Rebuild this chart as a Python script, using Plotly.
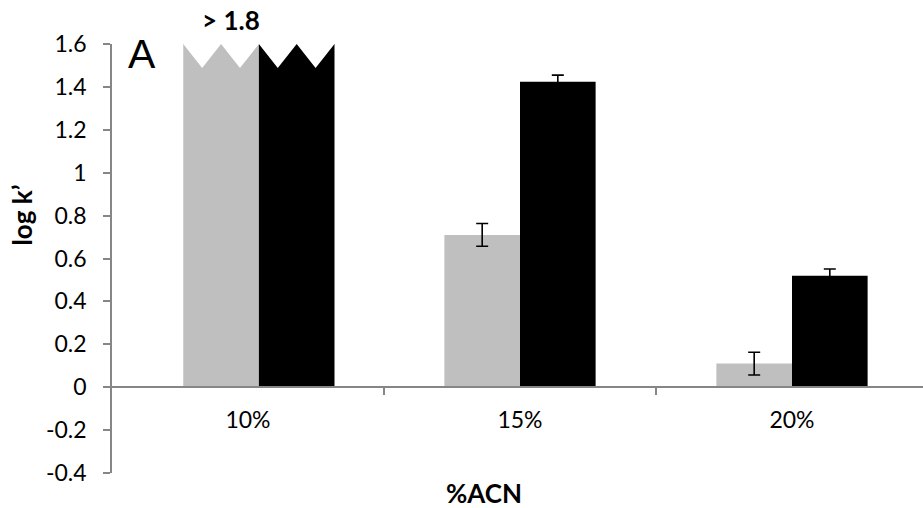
import plotly.graph_objects as go

# Retention factor (log k') versus acetonitrile content
categories = ["10%", "15%", "20%"]
series_a = [1.8, 0.71, 0.11]          # grey bars
series_a_err = [None, 0.053, 0.053]
series_b = [1.8, 1.424, 0.52]         # black bars
series_b_err = [None, 0.031, 0.031]
off_scale_label = "> 1.8"

y_tick_values = [1.6, 1.4, 1.2, 1.0, 0.8, 0.6, 0.4, 0.2, 0.0, -0.2, -0.4]
y_tick_labels = ["1.6", "1.4", "1.2", "1", "0.8", "0.6", "0.4", "0.2", "0", "-0.2", "-0.4"]

# ---- styling / geometry -------------------------------------------------
GREY = "#BFBFBF"
BLACK = "#000000"
AXIS = "#868686"
FONT = "Lato"
FS = 23          # tick labels
FS_BOLD = 26     # axis titles and the off-scale note
Y_MIN, Y_MAX = -0.4, 1.6
BAR_W = 0.278                 # width of a single bar in category units
FIRST_SHIFT = 0.04            # the off-scale pair sits slightly right of centre
NOTCH_DEPTH = 0.112           # depth of the broken-top zigzag
W, H = 923, 508
M_L, M_T, M_B = 112, 44, 35

idx = list(range(len(categories)))
shift = [FIRST_SHIFT if v > Y_MAX else 0.0 for v in series_a]

fig = go.Figure()
fig.add_trace(go.Bar(
    x=idx, y=series_a, width=BAR_W,
    offset=[-BAR_W + s for s in shift],
    marker=dict(color=GREY, line=dict(width=0)),
    error_y=dict(type="data", array=series_a_err, visible=True,
                 color=BLACK, thickness=1.6, width=6),
    showlegend=False,
))
fig.add_trace(go.Bar(
    x=idx, y=series_b, width=BAR_W,
    offset=[0.0 + s for s in shift],
    marker=dict(color=BLACK, line=dict(width=0)),
    error_y=dict(type="data", array=series_b_err, visible=True,
                 color=BLACK, thickness=1.6, width=6),
    showlegend=False,
))

# zigzag "broken" tops on bars that run off the scale
shapes = []
for i, (va, vb, s) in enumerate(zip(series_a, series_b, shift)):
    for v, left in ((va, i - BAR_W + s), (vb, i + s)):
        if v <= Y_MAX:
            continue
        x0, q = left, BAR_W / 4
        low = Y_MAX - NOTCH_DEPTH
        path = (f"M {x0},{Y_MAX} L {x0 + q},{low} L {x0 + 2 * q},{Y_MAX} "
                f"L {x0 + 3 * q},{low} L {x0 + 4 * q},{Y_MAX} Z")
        shapes.append(dict(type="path", path=path, xref="x", yref="y",
                           fillcolor="white", line=dict(width=0),
                           layer="above"))

plot_w = W - M_L
x_max = len(categories) - 0.5 - (M_L + 3 * 272 - W) / 272

fig.update_layout(
    width=W, height=H,
    margin=dict(l=M_L, r=0, t=M_T, b=M_B, autoexpand=False),
    paper_bgcolor="white", plot_bgcolor="white",
    barmode="overlay",
    font=dict(family=FONT, size=FS, color="#000000"),
    shapes=shapes,
    xaxis=dict(
        type="linear", range=[-0.5, x_max],
        tickvals=idx, ticktext=categories, ticks="",
        showgrid=False, zeroline=False,
        showline=True, linecolor=AXIS, linewidth=1.5,
        anchor="free", position=(0 - Y_MIN) / (Y_MAX - Y_MIN),
        ticklabelstandoff=12,
        minor=dict(tickvals=[i + 0.5 for i in idx], ticks="outside",
                   ticklen=7, tickcolor=AXIS, tickwidth=1.5, showgrid=False),
        tickfont=dict(family=FONT, size=FS),
    ),
    yaxis=dict(
        range=[Y_MIN, Y_MAX], tickvals=y_tick_values, ticktext=y_tick_labels,
        ticks="outside", ticklen=7, tickcolor=AXIS, tickwidth=1.5,
        showline=True, linecolor=AXIS, linewidth=1.5,
        showgrid=False, zeroline=False,
        ticklabelstandoff=12,
        tickfont=dict(family=FONT, size=FS),
    ),
    annotations=[
        dict(text="<b>log k’</b>", xref="paper", yref="paper",
             x=0, y=0.6, xanchor="center", yanchor="middle",
             xshift=22 - M_L, textangle=-90,
             showarrow=False, font=dict(family=FONT, size=FS_BOLD)),
        dict(text="<b>%ACN</b>", xref="paper", yref="paper",
             x=(484 - M_L) / plot_w, y=0, yshift=-20, yanchor="middle",
             xanchor="center",
             showarrow=False, font=dict(family=FONT, size=FS_BOLD)),
        dict(text="A", xref="paper", yref="paper", x=0, xanchor="left",
             xshift=14, y=1, yanchor="middle", yshift=-10,
             showarrow=False,
             font=dict(family="Liberation Sans", size=41)),
        dict(text=f"<b>{off_scale_label}</b>", xref="x", yref="paper",
             x=idx[0] + shift[0], xshift=-28, xanchor="center",
             y=1, yanchor="bottom",
             yshift=6, showarrow=False, font=dict(family=FONT, size=FS_BOLD)),
    ],
)

fig.write_html("out.html")
